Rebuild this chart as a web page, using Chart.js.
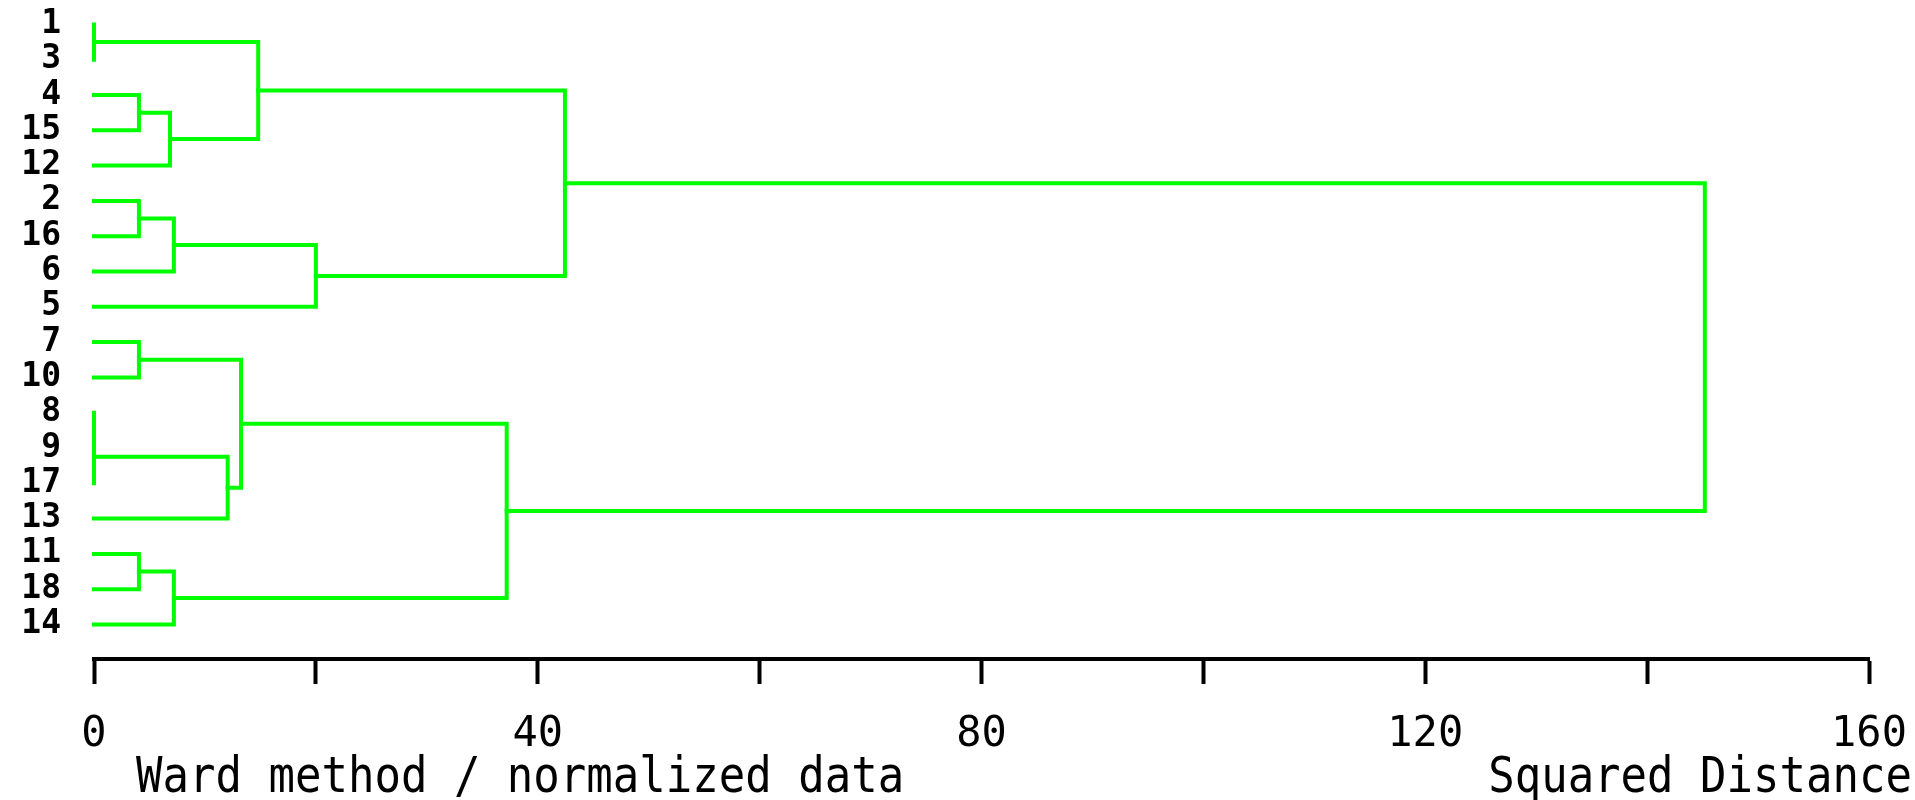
<!DOCTYPE html>
<html>
<head>
<meta charset="utf-8">
<title>Dendrogram</title>
<script src="https://cdn.jsdelivr.net/npm/chart.js@4.4.0/dist/chart.umd.min.js"></script>
<style>
    body { margin: 0; background: #fff; }
    canvas { display: block; }
</style>
</head>
<body>
<canvas id="dendroChart" width="1915" height="800"></canvas>
<script>
// leaves, top to bottom
const leafLabels = ['1', '3', '4', '15', '12', '2', '16', '6', '5', '7', '10', '8', '9', '17', '13', '11', '18', '14'];

// merges: node ids 0..17 are leaves, merge k creates node 18 + k
const mergeLeft   = [0, 2, 19, 18, 5, 22, 23, 21, 9, 11, 27, 28, 26, 15, 31, 30, 25];
const mergeRight  = [1, 3, 4, 20, 6, 7, 8, 24, 10, 12, 13, 14, 29, 16, 17, 32, 33];
const mergeHeight = [0, 4.05, 6.85, 14.8, 4.05, 7.2, 20.0, 42.45, 4.05, 0, 0, 12.05, 13.25, 4.05, 7.2, 37.2, 145.2];

const xTicks = [0, 20, 40, 60, 80, 100, 120, 140, 160];
const xLabelEvery = 40;

const leftCaption = 'Ward method / normalized data';
const rightCaption = 'Squared Distance';

const lineGreen = '#00ff00';

// position and height of each node
const nodePos = leafLabels.map((_, i) => i);
const nodeHeight = leafLabels.map(() => 0);
mergeHeight.forEach((h, k) => {
    nodePos.push((nodePos[mergeLeft[k]] + nodePos[mergeRight[k]]) / 2);
    nodeHeight.push(h);
});

// one U shaped line per merge
const datasets = mergeHeight.map((h, k) => {
    const l = mergeLeft[k];
    const r = mergeRight[k];
    return {
        data: [
            { x: nodeHeight[l], y: nodePos[l] },
            { x: h, y: nodePos[l] },
            { x: h, y: nodePos[r] },
            { x: nodeHeight[r], y: nodePos[r] }
        ],
        borderColor: lineGreen,
        borderWidth: 4,
        borderCapStyle: 'square',
        borderJoinStyle: 'miter',
        pointRadius: 0,
        tension: 0,
        fill: false,
        clip: false
    };
});

// the two captions under the axis (stretched a bit, the original font is tall)
const captionPlugin = {
    id: 'captions',
    afterDraw(chart) {
        const ctx = chart.ctx;
        ctx.save();
        ctx.fillStyle = '#000';
        ctx.font = '44px "DejaVu Sans Mono"';
        ctx.textBaseline = 'alphabetic';
        ctx.translate(0, 792);
        ctx.scale(1, 1.12);
        ctx.textAlign = 'left';
        ctx.fillText(leftCaption, 136, 0);
        ctx.textAlign = 'right';
        ctx.fillText(rightCaption, 1912, 0);
        ctx.restore();
    }
};

const ctx = document.getElementById('dendroChart').getContext('2d');
const dendroChart = new Chart(ctx, {
    type: 'line',
    data: { datasets: datasets },
    options: {
        responsive: false,
        animation: false,
        devicePixelRatio: 1,
        layout: { padding: { top: 3, right: 46, bottom: 0, left: 0 } },
        plugins: {
            legend: { display: false },
            title: { display: false },
            tooltip: { enabled: false }
        },
        scales: {
            x: {
                type: 'linear',
                position: 'bottom',
                min: 0,
                max: 160,
                afterBuildTicks: scale => { scale.ticks = xTicks.map(v => ({ value: v })); },
                afterFit: scale => {
                    scale.height = 141;
                    scale.paddingTop = 0;
                    scale.paddingBottom = 0;
                    scale.paddingLeft = 0;
                    scale.paddingRight = 0;
                },
                ticks: {
                    autoSkip: false,
                    maxRotation: 0,
                    padding: 26,
                    color: '#000',
                    font: { family: 'DejaVu Sans Mono', size: 42 },
                    callback: v => (v % xLabelEvery === 0 ? String(v) : '')
                },
                grid: {
                    drawOnChartArea: false,
                    drawTicks: true,
                    tickLength: 25,
                    tickWidth: 4,
                    tickColor: '#000'
                },
                border: { display: true, color: '#000', width: 4 }
            },
            y: {
                type: 'linear',
                reverse: true,
                min: -0.606,
                max: 17.977,
                afterBuildTicks: scale => { scale.ticks = leafLabels.map((_, i) => ({ value: i })); },
                afterFit: scale => {
                    scale.width = 94;
                    scale.paddingTop = 0;
                    scale.paddingBottom = 0;
                    scale.paddingLeft = 0;
                    scale.paddingRight = 0;
                },
                ticks: {
                    autoSkip: false,
                    padding: 33,
                    color: '#000',
                    font: { family: 'DejaVu Sans Mono', size: 33, weight: 'bold' },
                    callback: v => leafLabels[v]
                },
                grid: { display: false, drawTicks: false },
                border: { display: false }
            }
        }
    },
    plugins: [captionPlugin]
});
</script>
</body>
</html>
